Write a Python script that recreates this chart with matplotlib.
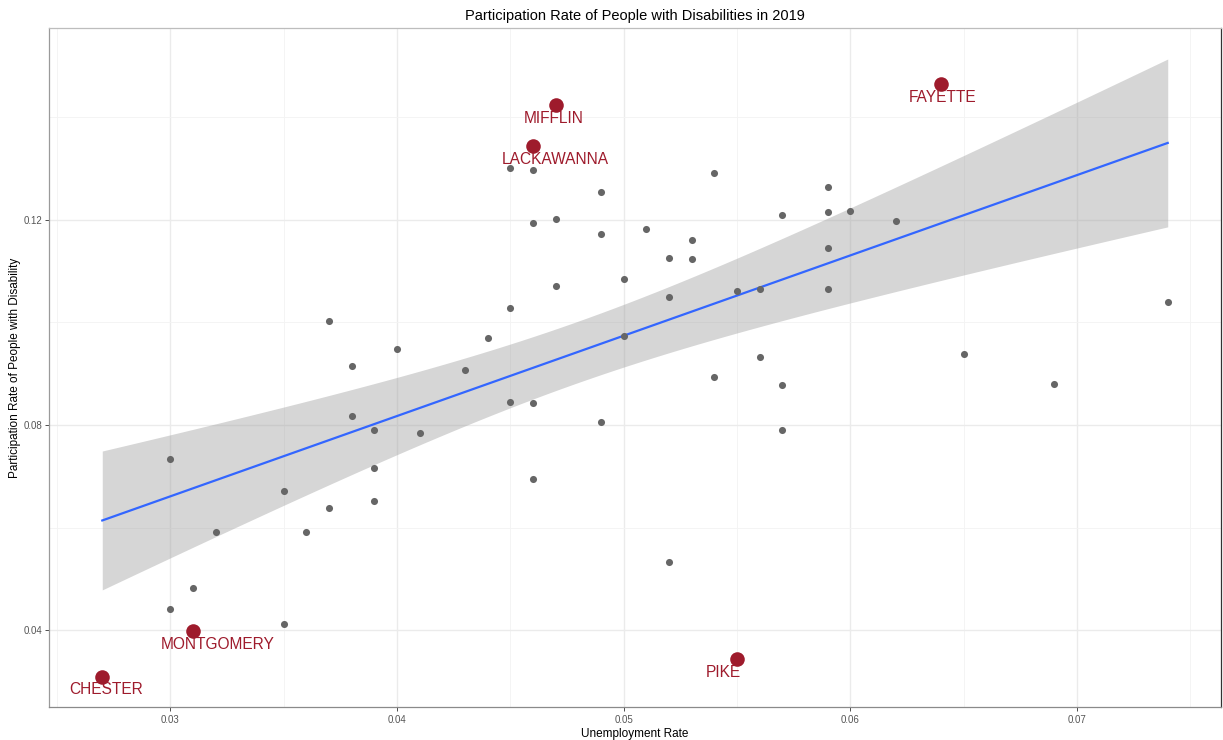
import math
import numpy as np
import matplotlib
matplotlib.use("Agg")
import matplotlib.pyplot as plt
from matplotlib.ticker import FixedLocator

# County-level unemployment rate vs. labour-force participation of people with disabilities
unemployment = [
    0.030, 0.030, 0.031, 0.032, 0.035, 0.035, 0.036, 0.037, 0.037, 0.038,
    0.038, 0.039, 0.039, 0.039, 0.040, 0.041, 0.043, 0.044, 0.045, 0.045,
    0.045, 0.046, 0.046, 0.046, 0.046, 0.047, 0.047, 0.049, 0.049, 0.049,
    0.050, 0.050, 0.051, 0.052, 0.052, 0.052, 0.053, 0.053, 0.054, 0.054,
    0.055, 0.056, 0.056, 0.057, 0.057, 0.057, 0.059, 0.059, 0.059, 0.059,
    0.060, 0.062, 0.065, 0.069, 0.074,
]
participation = [
    0.0734, 0.0442, 0.0482, 0.0591, 0.0672, 0.0413, 0.0591, 0.0639, 0.1002, 0.0914,
    0.0818, 0.0790, 0.0717, 0.0653, 0.0948, 0.0785, 0.0907, 0.0969, 0.1027, 0.0844,
    0.1300, 0.1296, 0.1193, 0.0842, 0.0694, 0.1201, 0.1070, 0.1253, 0.1171, 0.0806,
    0.1085, 0.0973, 0.1182, 0.1126, 0.1050, 0.0533, 0.1161, 0.1124, 0.1290, 0.0894,
    0.1061, 0.1065, 0.0933, 0.1209, 0.0878, 0.0791, 0.1263, 0.1215, 0.1145, 0.1064,
    0.1216, 0.1197, 0.0938, 0.0880, 0.1039,
]

# Highlighted counties
hl_names = ["MIFFLIN", "LACKAWANNA", "FAYETTE", "MONTGOMERY", "CHESTER", "PIKE"]
hl_unemployment = [0.047, 0.046, 0.064, 0.031, 0.027, 0.055]
hl_participation = [0.1423, 0.1343, 0.1464, 0.0398, 0.0310, 0.0344]
# label offsets (pixels) relative to each highlighted point
hl_label_dx = [-2, 22, 2, 25, 4, -14]
hl_label_dy = [-13.5, -13.5, -13.5, -13.5, -12.5, -13.5]

RED = "#9E1B2C"
GREY_PT = "#666666"

plt.rcParams["font.family"] = ["Liberation Sans", "DejaVu Sans"]

fig = plt.figure(figsize=(12.23, 7.40), dpi=100)
ax = fig.add_axes([49 / 1223, 1 - 707 / 740, (1221 - 49) / 1223, (707 - 28) / 740])

# ---- linear fit with 95% confidence band (all counties) ----
x_all = np.array(unemployment + hl_unemployment)
y_all = np.array(participation + hl_participation)
n = len(x_all)
b1, b0 = np.polyfit(x_all, y_all, 1)
resid = y_all - (b0 + b1 * x_all)
dof = n - 2
s = math.sqrt(np.sum(resid ** 2) / dof)
xbar = x_all.mean()
sxx = np.sum((x_all - xbar) ** 2)


def t_pdf(t, v):
    c = math.exp(math.lgamma((v + 1) / 2) - math.lgamma(v / 2)) / math.sqrt(v * math.pi)
    return c * (1 + t * t / v) ** (-(v + 1) / 2)


def t_quantile_975(v):
    grid = np.linspace(0, 6, 60001)
    pdf = np.array([t_pdf(g, v) for g in grid])
    cdf = 0.5 + np.concatenate([[0], np.cumsum((pdf[1:] + pdf[:-1]) / 2 * np.diff(grid))])
    return float(np.interp(0.975, cdf, grid))


tq = t_quantile_975(dof)
xs = np.linspace(x_all.min(), x_all.max(), 80)
ys = b0 + b1 * xs
se = s * np.sqrt(1 / n + (xs - xbar) ** 2 / sxx)
ax.fill_between(xs, ys - tq * se, ys + tq * se, color="#999999", alpha=0.4,
                linewidth=0, zorder=2)
ax.plot(xs, ys, color="#3366FF", linewidth=1.6, zorder=3)

# ---- points ----
ax.scatter(unemployment, participation, s=26, color=GREY_PT, linewidths=0, zorder=4)
ax.scatter(hl_unemployment, hl_participation, s=110, color=RED, linewidths=0, zorder=5)
for name, xv, yv, dx, dy in zip(hl_names, hl_unemployment, hl_participation,
                                hl_label_dx, hl_label_dy):
    ax.annotate(name, (xv, yv), xytext=(dx, dy), textcoords="offset pixels",
                ha="center", va="center", color=RED, fontsize=11.2, zorder=6)

# ---- axes, grid, theme ----
ax.set_xlim(0.02465, 0.07635)
ax.set_ylim(0.0251, 0.1573)
ax.xaxis.set_major_locator(FixedLocator([0.03, 0.04, 0.05, 0.06, 0.07]))
ax.xaxis.set_minor_locator(FixedLocator([0.025, 0.035, 0.045, 0.055, 0.065, 0.075]))
ax.yaxis.set_major_locator(FixedLocator([0.04, 0.08, 0.12]))
ax.yaxis.set_minor_locator(FixedLocator([0.06, 0.10, 0.14]))
ax.set_xticklabels(["0.03", "0.04", "0.05", "0.06", "0.07"])
ax.set_yticklabels(["0.04", "0.08", "0.12"])
ax.grid(which="major", color="#ebebeb", linewidth=1.0, zorder=0)
ax.grid(which="minor", color="#f3f3f3", linewidth=0.6, zorder=0)
ax.set_axisbelow(True)
ax.tick_params(which="major", length=3, width=0.7, color="#4d4d4d",
               labelsize=7, labelcolor="#555555", pad=3)
ax.tick_params(axis="y", which="major", pad=1.5)
ax.tick_params(which="minor", length=0)
for side, col in {"left": "#9a9a9a", "top": "#bdbdbd", "bottom": "#8a8a8a",
                  "right": "#333333"}.items():
    ax.spines[side].set_color(col)
    ax.spines[side].set_linewidth(0.9)

ax.set_xlabel("Unemployment Rate", fontsize=8.5, labelpad=2)
ax.set_ylabel("Participation Rate of People with Disability", fontsize=8.5, labelpad=2)
ax.set_title("Participation Rate of People with Disabilities in 2019", fontsize=10.5, pad=6)

fig.savefig("out.png", dpi=100, facecolor="white")
